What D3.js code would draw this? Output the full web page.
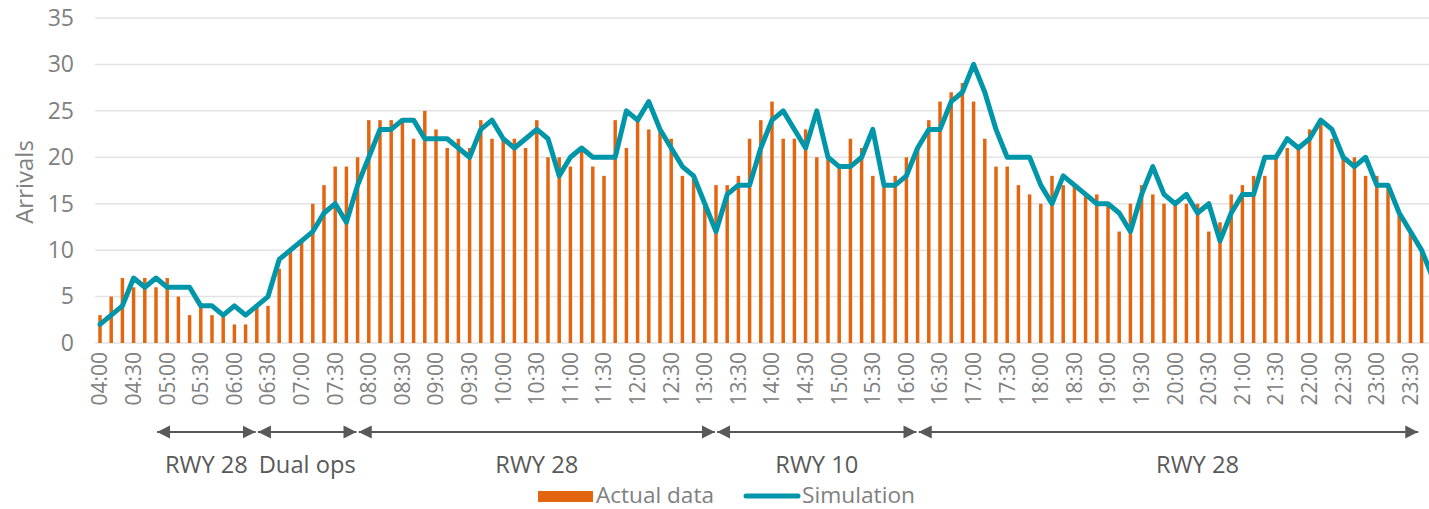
<!DOCTYPE html>
<html>
<head>
<meta charset="utf-8">
<script src="https://cdn.jsdelivr.net/npm/d3@7"></script>
<style>
  body { margin: 0; background: #fff; }
  text { font-family: "Open Sans", "Noto Sans", sans-serif; }
</style>
</head>
<body>
<div id="chart"></div>
<script>
// 10-minute slots from 04:00 to 23:50
var times = d3.range(120).map(function (i) {
  var m = 240 + i * 10;
  return d3.format("02")(Math.floor(m / 60)) + ":" + d3.format("02")(m % 60);
});

var actual = [
  3, 5, 7, 6, 7, 6, 7, 5, 3, 4, 3, 3, 2, 2, 4, 4, 8, 10, 11, 15,
  17, 19, 19, 20, 24, 24, 24, 24, 22, 25, 23, 21, 22, 21, 24, 22, 22, 22, 21, 24,
  20, 20, 19, 21, 19, 18, 24, 21, 24, 23, 23, 22, 18, 18, 15, 17, 17, 18, 22, 24,
  26, 22, 22, 23, 20, 20, 19, 22, 21, 18, 17, 18, 20, 21, 24, 26, 27, 28, 26, 22,
  19, 19, 17, 16, 15, 18, 17, 17, 16, 16, 15, 12, 15, 17, 16, 15, 15, 15, 15, 12,
  13, 16, 17, 18, 18, 20, 21, 21, 23, 24, 22, 20, 20, 18, 18, 17, 14, 12, 10, 8
];

var simulation = [
  2, 3, 4, 7, 6, 7, 6, 6, 6, 4, 4, 3, 4, 3, 4, 5, 9, 10, 11, 12,
  14, 15, 13, 17, 20, 23, 23, 24, 24, 22, 22, 22, 21, 20, 23, 24, 22, 21, 22, 23,
  22, 18, 20, 21, 20, 20, 20, 25, 24, 26, 23, 21, 19, 18, 15, 12, 16, 17, 17, 21,
  24, 25, 23, 21, 25, 20, 19, 19, 20, 23, 17, 17, 18, 21, 23, 23, 26, 27, 30, 27,
  23, 20, 20, 20, 17, 15, 18, 17, 16, 15, 15, 14, 12, 16, 19, 16, 15, 16, 14, 15,
  11, 14, 16, 16, 20, 20, 22, 21, 22, 24, 23, 20, 19, 20, 17, 17, 14, 12, 10, 7
];

var yTicks = [0, 5, 10, 15, 20, 25, 30, 35];

// runway configuration spans (start time, end time, label, label time)
var spanStart = ["04:51", "06:21", "07:51", "13:11", "16:11"];
var spanEnd   = ["06:19", "07:49", "13:09", "16:09", "23:37"];
var spanLabel = ["RWY 28", "Dual ops", "RWY 28", "RWY 10", "RWY 28"];
var spanLabelAt = ["05:35", "07:05", "10:30", "14:40", "20:20"];

var seriesNames = ["Actual data", "Simulation"];

var W = 1429, H = 509;
var barColor = "#E4650F", lineColor = "#0096A9";

var svg = d3.select("#chart").append("svg")
    .attr("width", W)
    .attr("height", H);

var x = d3.scaleBand()
    .domain(times)
    .range([94.4, 1438.4])
    .paddingInner(0.69)
    .paddingOuter(0.345);

var y = d3.scaleLinear()
    .domain([0, 35])
    .range([343, 18]);

var step = x.step();
function xc(t) { return x(t) + x.bandwidth() / 2; }
// position of an arbitrary clock time, relative to the slot centres
function xTime(s) {
  var p = s.split(":");
  var m = (+p[0]) * 60 + (+p[1]) - 240;
  return xc(times[0]) + m / 10 * step;
}

// gridlines
svg.append("g")
  .selectAll("line")
  .data(yTicks)
  .enter().append("line")
    .attr("x1", 95)
    .attr("x2", W)
    .attr("y1", function (d) { return y(d); })
    .attr("y2", function (d) { return y(d); })
    .attr("stroke", "#e3e3e3")
    .attr("stroke-width", 1.5);

// y axis
var yAxis = svg.append("g")
    .attr("transform", "translate(95,0)")
    .call(d3.axisLeft(y).tickValues(yTicks).tickSize(0).tickPadding(21));
yAxis.select(".domain").remove();
yAxis.selectAll("text")
    .attr("font-size", 23)
    .attr("fill", "#808080")
    .attr("font-family", "Open Sans, sans-serif");

svg.append("text")
    .attr("transform", "translate(33,182) rotate(-90)")
    .attr("text-anchor", "middle")
    .attr("font-size", 24)
    .attr("fill", "#808080")
    .text("Arrivals");

// bars
svg.append("g")
  .selectAll("rect")
  .data(actual)
  .enter().append("rect")
    .attr("x", function (d, i) { return x(times[i]); })
    .attr("y", function (d) { return y(d); })
    .attr("width", x.bandwidth())
    .attr("height", function (d) { return y(0) - y(d); })
    .attr("fill", barColor);

// simulation line
var line = d3.line()
    .x(function (d, i) { return xc(times[i]); })
    .y(function (d) { return y(d); });

svg.append("path")
    .datum(simulation)
    .attr("d", line)
    .attr("fill", "none")
    .attr("stroke", lineColor)
    .attr("stroke-width", 5)
    .attr("stroke-linejoin", "round")
    .attr("stroke-linecap", "round");

// x axis
var xAxis = svg.append("g")
    .attr("transform", "translate(0," + y(0) + ")")
    .call(d3.axisBottom(x)
      .tickValues(times.filter(function (t) { return +t.slice(3) % 30 === 0; }))
      .tickSize(0)
      .tickPadding(0));
xAxis.select(".domain").remove();
xAxis.selectAll("text")
    .attr("transform", "rotate(-90)")
    .attr("text-anchor", "end")
    .attr("x", -9)
    .attr("y", 0)
    .attr("dy", "0.35em")
    .attr("font-size", 21)
    .attr("fill", "#808080")
    .attr("font-family", "Open Sans, sans-serif");

// runway arrows
var defs = svg.append("defs");
defs.append("marker")
    .attr("id", "head")
    .attr("viewBox", "0 0 10 10")
    .attr("refX", 10)
    .attr("refY", 5)
    .attr("markerWidth", 6.5)
    .attr("markerHeight", 7.5)
    .attr("markerUnits", "strokeWidth")
    .attr("orient", "auto-start-reverse")
  .append("path")
    .attr("d", "M0,0 L10,5 L0,10 z")
    .attr("fill", "#595959");

var ay = 432;
var spans = svg.append("g");
spanLabel.forEach(function (lab, i) {
  spans.append("line")
      .attr("x1", xTime(spanStart[i]))
      .attr("x2", xTime(spanEnd[i]))
      .attr("y1", ay)
      .attr("y2", ay)
      .attr("stroke", "#595959")
      .attr("stroke-width", 2)
      .attr("marker-start", "url(#head)")
      .attr("marker-end", "url(#head)");
  spans.append("text")
      .attr("x", xTime(spanLabelAt[i]))
      .attr("y", 473)
      .attr("text-anchor", "middle")
      .attr("font-size", 23)
      .attr("fill", "#595959")
      .attr("textLength", lab === "Dual ops" ? 97 : 83)
      .attr("lengthAdjust", "spacingAndGlyphs")
      .text(lab);
});

// legend
var lg = svg.append("g");
lg.append("rect")
    .attr("x", 538)
    .attr("y", 491)
    .attr("width", 55)
    .attr("height", 11)
    .attr("fill", barColor);
lg.append("text")
    .attr("x", 596)
    .attr("y", 503)
    .attr("font-size", 22)
    .attr("fill", "#808080")
    .attr("textLength", 118)
    .attr("lengthAdjust", "spacingAndGlyphs")
    .text(seriesNames[0]);
lg.append("line")
    .attr("x1", 746)
    .attr("x2", 798)
    .attr("y1", 496)
    .attr("y2", 496)
    .attr("stroke", lineColor)
    .attr("stroke-width", 5)
    .attr("stroke-linecap", "round");
lg.append("text")
    .attr("x", 802)
    .attr("y", 503)
    .attr("font-size", 22)
    .attr("fill", "#808080")
    .attr("textLength", 113)
    .attr("lengthAdjust", "spacingAndGlyphs")
    .text(seriesNames[1]);
</script>
</body>
</html>
